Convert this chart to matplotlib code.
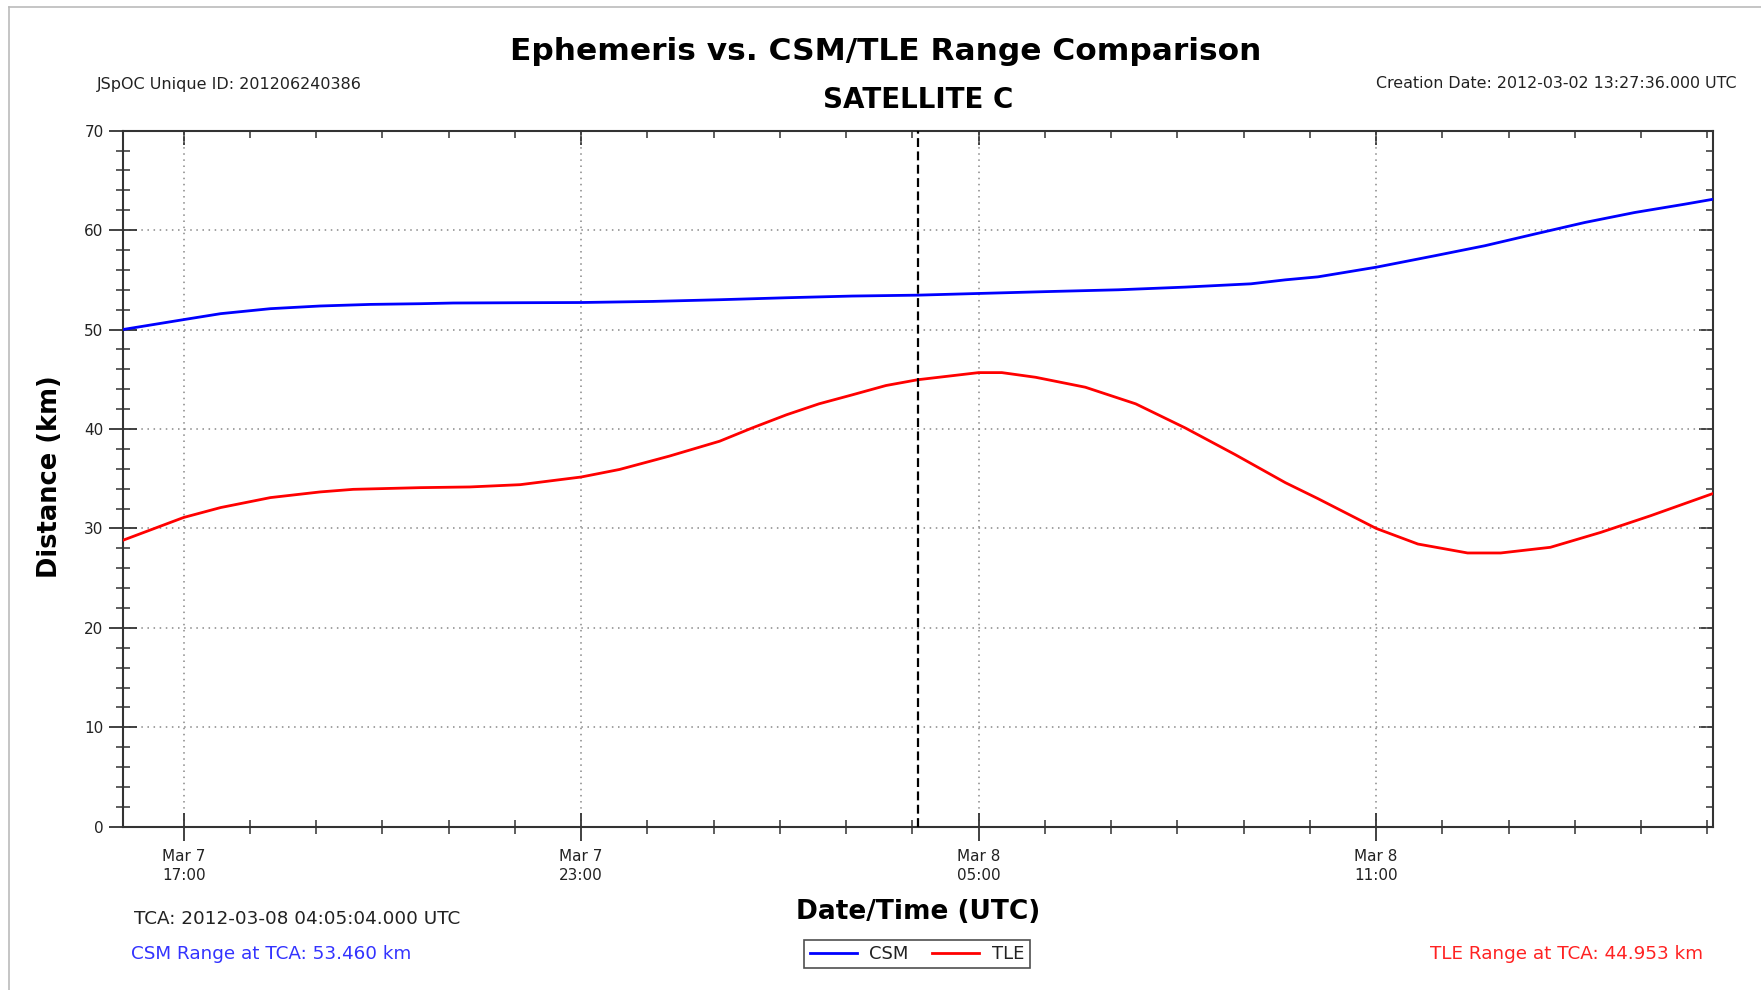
import matplotlib
matplotlib.use('Agg')
import matplotlib.pyplot as plt
import matplotlib.dates as mdates
from matplotlib.lines import Line2D
import pandas as pd

# Range samples, hours after 2012-03-07 00:00 UTC
csm_hours = [16.08, 17.0, 17.56, 18.31, 19.06, 19.82, 20.57, 21.07, 22.08, 23.0,
             24.08, 25.09, 26.1, 27.09, 28.08, 29.0, 30.1, 31.11, 32.12, 33.11,
             33.63, 34.12, 35.0, 35.89, 36.64, 37.39, 38.15, 38.9, 39.65, 40.08]
csm_km = [50.0, 51.0, 51.6, 52.1, 52.37, 52.53, 52.6, 52.67, 52.7, 52.72,
          52.83, 53.0, 53.2, 53.37, 53.46, 53.63, 53.83, 54.0, 54.27, 54.6,
          55.0, 55.3, 56.27, 57.43, 58.43, 59.6, 60.77, 61.77, 62.6, 63.1]

tle_hours = [16.08, 17.0, 17.56, 18.31, 19.06, 19.56, 20.57, 21.32, 22.08, 23.0,
             23.58, 24.33, 25.09, 25.58, 26.1, 26.59, 27.09, 27.6, 28.08, 29.0,
             29.35, 29.86, 30.61, 31.37, 32.12, 32.87, 33.63, 34.12, 35.0, 35.63,
             36.38, 36.88, 37.63, 38.39, 39.14, 40.08]
tle_km = [28.8, 31.1, 32.1, 33.1, 33.67, 33.93, 34.1, 34.17, 34.4, 35.17,
          35.93, 37.27, 38.77, 40.1, 41.43, 42.53, 43.43, 44.37, 44.953, 45.67,
          45.67, 45.2, 44.2, 42.53, 40.1, 37.43, 34.6, 33.0, 30.0, 28.43,
          27.53, 27.53, 28.1, 29.6, 31.27, 33.5]

tca = pd.Timestamp('2012-03-08 04:05:04')
t_start = pd.Timestamp('2012-03-07 16:05:04')
t_end = pd.Timestamp('2012-03-08 16:05:04')
major_ticks = pd.to_datetime(['2012-03-07 17:00', '2012-03-07 23:00',
                              '2012-03-08 05:00', '2012-03-08 11:00'])
csm_at_tca = 53.460
tle_at_tca = 44.953

day0 = pd.Timestamp('2012-03-07')
csm_t = day0 + pd.to_timedelta(csm_hours, unit='h')
tle_t = day0 + pd.to_timedelta(tle_hours, unit='h')

plt.rcParams['font.family'] = 'DejaVu Sans'
text_col = '#222222'
axis_col = '#333333'

fig = plt.figure(figsize=(17.61, 9.90), dpi=100)
ax = fig.add_axes([123 / 1761, 1 - 826.7 / 990, (1713 - 123) / 1761, (826.7 - 130.7) / 990])

ax.plot(csm_t, csm_km, color='#0000ff', lw=2.0, label='CSM', zorder=3)
ax.plot(tle_t, tle_km, color='#ff0000', lw=2.0, label='TLE', zorder=3)
ax.axvline(tca, color='black', lw=1.6, ls=(0, (4, 2)), zorder=4)

ax.set_xlim(t_start, t_end)
ax.set_ylim(0, 70)
ax.set_yticks(range(0, 71, 10))
ax.yaxis.set_minor_locator(matplotlib.ticker.MultipleLocator(2))
ax.set_xticks(major_ticks)
ax.xaxis.set_major_formatter(mdates.DateFormatter('%b %-d\n%H:%M'))
ax.xaxis.set_minor_locator(mdates.HourLocator())

ax.grid(True, which='major', color='#888888', lw=1.1, ls=(0, (1, 3)))
for s in ax.spines.values():
    s.set_color(axis_col)
    s.set_linewidth(1.5)

ax.tick_params(which='major', direction='inout', length=20, width=1.3,
               color=axis_col, labelcolor=text_col, labelsize=11, pad=4)
ax.tick_params(axis='x', which='major', pad=6)
ax.tick_params(which='minor', direction='inout', length=10, width=1.1, color=axis_col)
for lab in ax.get_xticklabels():
    lab.set_linespacing(1.3)

# inward ticks on the top and right edges
top = ax.secondary_xaxis('top')
top.set_xticks(major_ticks)
top.xaxis.set_minor_locator(mdates.HourLocator())
top.tick_params(which='major', direction='in', length=10, width=1.3, color=axis_col, labeltop=False)
top.tick_params(which='minor', direction='in', length=5, width=1.1, color=axis_col)
top.spines['top'].set_visible(False)
right = ax.secondary_yaxis('right')
right.set_yticks(range(0, 71, 10))
right.yaxis.set_minor_locator(matplotlib.ticker.MultipleLocator(2))
right.tick_params(which='major', direction='in', length=10, width=1.3, color=axis_col, labelright=False)
right.tick_params(which='minor', direction='in', length=5, width=1.1, color=axis_col)
right.spines['right'].set_visible(False)

# titles and annotations
fig.text(886 / 1761, 1 - 52 / 990, 'Ephemeris vs. CSM/TLE Range Comparison',
         ha='center', va='center', fontsize=22.5, fontweight='bold', color='black')
fig.text(918 / 1761, 1 - 100 / 990, 'SATELLITE C', ha='center', va='center',
         fontsize=20, fontweight='bold', color='black')
fig.text(97 / 1761, 1 - 84 / 990, 'JSpOC Unique ID: 201206240386', ha='left', va='center',
         fontsize=11.5, color=text_col)
fig.text(1736 / 1761, 1 - 84 / 990, 'Creation Date: 2012-03-02 13:27:36.000 UTC', ha='right',
         va='center', fontsize=11.4, color=text_col)
fig.text(50 / 1761, 1 - 477 / 990, 'Distance (km)', ha='center', va='center', rotation=90,
         fontsize=18.5, fontweight='bold', color='black')
fig.text(918 / 1761, 1 - 912 / 990, 'Date/Time (UTC)', ha='center', va='center',
         fontsize=19, fontweight='bold', color='black')
fig.text(134 / 1761, 1 - 919 / 990, 'TCA: ' + tca.strftime('%Y-%m-%d %H:%M:%S') + '.000 UTC',
         ha='left', va='center', fontsize=13.2, color=text_col)
fig.text(131 / 1761, 1 - 954 / 990, f'CSM Range at TCA: {csm_at_tca:.3f} km', ha='left',
         va='center', fontsize=13.2, color='#3333ff')
fig.text(1703 / 1761, 1 - 954 / 990, f'TLE Range at TCA: {tle_at_tca:.3f} km', ha='right',
         va='center', fontsize=13.2, color='#ff2222')

leg = fig.legend(loc='center', bbox_to_anchor=(917 / 1761, 1 - 954 / 990), ncol=2,
                 fontsize=13, frameon=True, fancybox=False, edgecolor='#222222',
                 handlelength=2.6, columnspacing=1.3, borderpad=0.3, handletextpad=0.7)
leg.get_frame().set_linewidth(1.2)
for t in leg.get_texts():
    t.set_color(text_col)

# page border
fig.add_artist(Line2D([9 / 1761, 1], [1 - 7 / 990, 1 - 7 / 990], color='#bbbbbb', lw=1.2))
fig.add_artist(Line2D([9 / 1761, 9 / 1761], [0, 1 - 7 / 990], color='#bbbbbb', lw=1.2))

fig.savefig('out.png', dpi=100)
